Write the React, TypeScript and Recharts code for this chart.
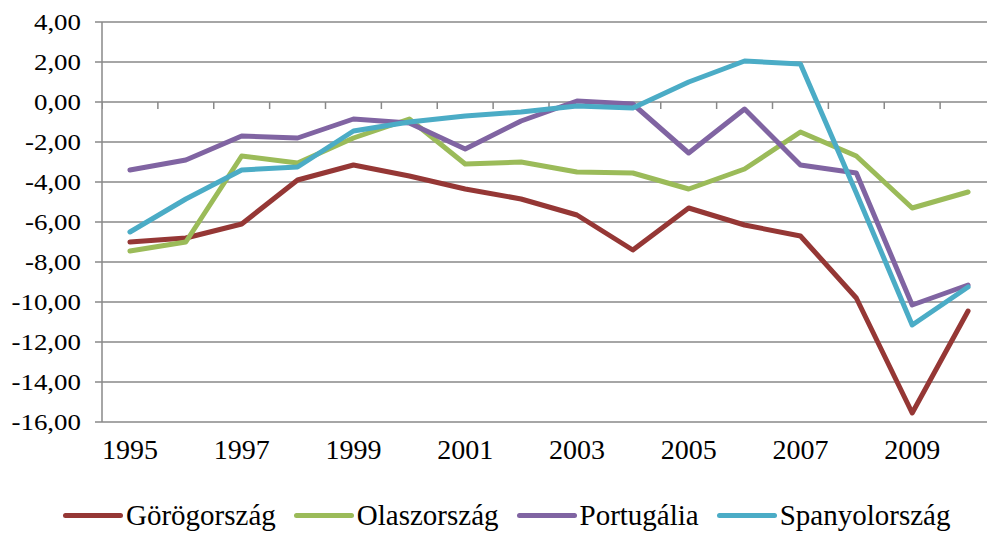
import { LineChart, Line, XAxis, YAxis, CartesianGrid, Legend, ReferenceLine } from 'recharts';

const years = [1995, 1996, 1997, 1998, 1999, 2000, 2001, 2002, 2003, 2004, 2005, 2006, 2007, 2008, 2009, 2010];
const gorogorszag = [-7.0, -6.8, -6.1, -3.9, -3.15, -3.7, -4.35, -4.85, -5.65, -7.4, -5.3, -6.15, -6.7, -9.8, -15.55, -10.45];
const olaszorszag = [-7.45, -7.0, -2.7, -3.05, -1.8, -0.85, -3.1, -3.0, -3.5, -3.55, -4.35, -3.35, -1.5, -2.7, -5.3, -4.5];
const portugalia = [-3.4, -2.9, -1.7, -1.8, -0.85, -1.05, -2.35, -0.95, 0.05, -0.1, -2.55, -0.35, -3.15, -3.55, -10.15, -9.15];
const spanyolorszag = [-6.5, -4.85, -3.4, -3.25, -1.45, -1.0, -0.7, -0.5, -0.2, -0.3, 1.0, 2.05, 1.9, -4.55, -11.15, -9.25];

const yTicks = [4, 2, 0, -2, -4, -6, -8, -10, -12, -14, -16];
const xTicks = [1995, 1997, 1999, 2001, 2003, 2005, 2007, 2009];

const series = [
    { key: 'gor', name: 'Görögország', color: '#953735' },
    { key: 'ola', name: 'Olaszország', color: '#9BBB59' },
    { key: 'por', name: 'Portugália', color: '#8064A2' },
    { key: 'spa', name: 'Spanyolország', color: '#4BACC6' },
];

const data = years.map((year, i) => ({
    year,
    gor: gorogorszag[i],
    ola: olaszorszag[i],
    por: portugalia[i],
    spa: spanyolorszag[i],
}));

// tick marks on the zero line sit between the categories
const boundaries = [years[0] - 0.5, ...years.map((y) => y + 0.5)];

const FONT = "'Liberation Serif', 'Times New Roman', serif";
const GRID = '#898989';

const fmt = (v: number) => v.toFixed(2).replace('.', ',');

const YTick = (props: any) => {
    const { y, payload } = props;
    return (
        <text
            transform={`translate(81, ${y}) scale(1.17, 1)`}
            textAnchor="end"
            dy="0.35em"
            fontSize={23}
            fontFamily={FONT}
            fill="#000"
        >
            {fmt(payload.value)}
        </text>
    );
};

const XTick = (props: any) => {
    const { x, y, payload } = props;
    return (
        <text x={x} y={y} dy={29} textAnchor="middle" fontSize={28} fontFamily={FONT} fill="#000">
            {payload.value}
        </text>
    );
};

const LegendContent = () => (
    <div
        style={{
            display: 'flex',
            alignItems: 'center',
            height: 48,
            paddingTop: 18,
            paddingLeft: 63,
            boxSizing: 'border-box',
            fontFamily: FONT,
            fontSize: 29,
            lineHeight: '30px',
            color: '#000',
            whiteSpace: 'nowrap',
        }}
    >
        {series.map((s) => (
            <div key={s.key} style={{ display: 'flex', alignItems: 'center', marginRight: 18 }}>
                <span
                    style={{
                        display: 'inline-block',
                        width: 60,
                        height: 5,
                        borderRadius: 3,
                        background: s.color,
                        marginRight: 3,
                    }}
                />
                <span>{s.name}</span>
            </div>
        ))}
    </div>
);

export default function App() {
    return (
        <div style={{ position: 'absolute', left: 0, top: 0, width: 987, height: 533, overflow: 'hidden', background: '#fff' }}>
            <LineChart width={1000} height={533} data={data} margin={{ top: 22, right: 4, left: 0, bottom: 3 }}>
                <CartesianGrid vertical={false} stroke={GRID} strokeWidth={1.5} />
                <XAxis
                    dataKey="year"
                    type="number"
                    domain={[1994.5, 2010.5]}
                    ticks={xTicks}
                    axisLine={false}
                    tickLine={false}
                    height={60}
                    tick={<XTick />}
                    interval={0}
                />
                <YAxis
                    domain={[-16, 4]}
                    ticks={yTicks}
                    width={102}
                    interval={0}
                    axisLine={{ stroke: GRID, strokeWidth: 1.5 }}
                    tickLine={{ stroke: GRID, strokeWidth: 1.5 }}
                    tickSize={7}
                    tick={<YTick />}
                />
                {boundaries.map((b) => (
                    <ReferenceLine
                        key={b}
                        segment={[{ x: b, y: 0 }, { x: b, y: -0.35 }]}
                        stroke={GRID}
                        strokeWidth={1.5}
                        ifOverflow="hidden"
                    />
                ))}
                {series.map((s) => (
                    <Line
                        key={s.key}
                        dataKey={s.key}
                        name={s.name}
                        stroke={s.color}
                        strokeWidth={5}
                        strokeLinecap="round"
                        strokeLinejoin="round"
                        dot={false}
                        activeDot={false}
                        isAnimationActive={false}
                    />
                ))}
                <Legend verticalAlign="bottom" content={<LegendContent />} />
            </LineChart>
        </div>
    );
}
